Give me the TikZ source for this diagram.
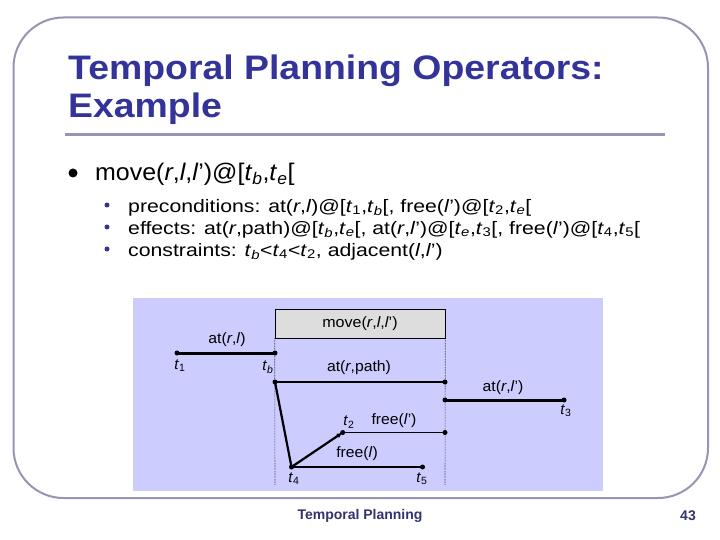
\documentclass[tikz,border=0pt]{standalone}
\usepackage{fontspec}
\setmainfont{Liberation Sans}
\usetikzlibrary{arrows.meta}
\definecolor{frame}{RGB}{150,150,180}
\definecolor{titleblue}{RGB}{51,51,153}
\definecolor{footblue}{RGB}{51,51,110}
\definecolor{panel}{RGB}{204,204,255}
\definecolor{boxgray}{RGB}{221,221,221}
\newcommand\ti[1]{\textit{#1}}
\newcommand\ts[2]{\textit{#1}\textsubscript{\textit{#2}}}
\newcommand\tn[2]{\textit{#1}\textsubscript{#2}}
\tikzset{
  titletext/.style={anchor=base west,inner sep=0pt,text=titleblue,font=\fontsize{34}{38}\selectfont\bfseries},
  maintext/.style={anchor=base west,inner sep=0pt,font=\fontsize{24}{26}\selectfont},
  subtext/.style={anchor=base west,inner sep=0pt,font=\fontsize{18}{20}\selectfont},
  lab/.style={inner sep=0pt,font=\fontsize{15}{17}\selectfont},
  pt/.style={circle,fill=black,inner sep=0pt,minimum size=5pt},
  thickln/.style={line width=3pt},
  midln/.style={line width=2.2pt},
  thinln/.style={line width=1.8pt},
  guide/.style={densely dotted,line width=0.6pt},
  footer/.style={text=footblue,inner sep=0pt,font=\fontsize{14}{16}\selectfont\bfseries}
}
\begin{document}
\begin{tikzpicture}[x=1pt,y=-1pt]
\useasboundingbox (0,0) rectangle (720,540);
\fill[white] (0,0) rectangle (720,540);
% frame
\draw[frame,line width=2pt,rounded corners=50pt] (13.5,17.5) rectangle (708,498);
% title
\node[titletext] (t1line) at (68,80) {\scalebox{1.1}[1]{Temporal Planning Operators:}};
\node[titletext] (t2line) at (68,118) {\scalebox{1.1}[1]{Example}};
\draw[frame,line width=3pt] (65,135) -- (665,135);
% bullets
\node[circle,fill=black,inner sep=0pt,minimum size=9pt] (b0) at (73,173) {};
\node[maintext] (m0) at (95,181) {\scalebox{1.04}[1]{move(\ti{r},\ti{l},\ti{l}’)@[\ts{t}{b},\ts{t}{e}[}};
\foreach \yy/\nm in {205/b1,227/b2,249/b3}
  \node[circle,fill=titleblue,inner sep=0pt,minimum size=5pt] (\nm) at (107,\yy) {};
\node[subtext] (m1) at (128,212) {\scalebox{1.18}[1]{preconditions: at(\ti{r},\ti{l})@[\tn{t}{1},\ts{t}{b}[, free(\ti{l}’)@[\tn{t}{2},\ts{t}{e}[}};
\node[subtext] (m2) at (128,234) {\scalebox{1.18}[1]{effects: at(\ti{r},path)@[\ts{t}{b},\ts{t}{e}[, at(\ti{r},\ti{l}’)@[\ts{t}{e},\tn{t}{3}[, free(\ti{l}’)@[\tn{t}{4},\tn{t}{5}[}};
\node[subtext] (m3) at (128,256) {\scalebox{1.18}[1]{constraints: \ts{t}{b}<\tn{t}{4}<\tn{t}{2}, adjacent(\ti{l},\ti{l}’)}};
% panel
\fill[panel] (133,298) rectangle (603,491);
\node[draw=black,line width=0.6pt,fill=boxgray,minimum width=170pt,minimum height=29pt,inner sep=0pt,font=\fontsize{15}{17}\selectfont] (mv) at (360,323.5) {\scalebox{1.07}[1]{move(\ti{r},\ti{l},\ti{l}’)}};
\coordinate (gA) at (275,485);
\coordinate (gB) at (445,485);
\draw[guide] (mv.south west) -- (gA);
\draw[guide] (mv.south east) -- (gB);
% time points
\node[pt] (p1) at (177,353) {};
\node[pt] (pb) at (275,353) {};
\node[pt] (pb2) at (275,382) {};
\node[pt] (pe) at (445,382) {};
\node[pt] (pe2) at (445,400) {};
\node[pt] (p3) at (564,400) {};
\node[pt] (p2) at (342.7,432.5) {};
\node[pt] (pe3) at (445,432.5) {};
\node[pt] (p4) at (291.5,467) {};
\node[pt] (p5) at (422.5,467) {};
% lines
\draw[thickln] (p1.center) -- (pb.center);
\draw[midln] (pb2.center) -- (pe.center);
\draw[thickln] (pe2.center) -- (p3.center);
\draw[thinln] (p2.center) -- (pe3.center);
\draw[thinln] (p4.center) -- (p5.center);
\draw[midln] (pb2.center) -- (p4.center);
\draw[midln,-{Latex[length=6pt,width=5pt]}] (p4.center) -- (p2.center);
% labels
\node[lab] (l1) at (227,340) {\scalebox{1.05}[1]{at(\ti{r},\ti{l})}};
\node[lab] (l2) at (359,368) {\scalebox{1.05}[1]{at(\ti{r},path)}};
\node[lab] (l3) at (503,388) {\scalebox{1.05}[1]{at(\ti{r},\ti{l}’)}};
\node[lab] (l4) at (394,421) {\scalebox{1.05}[1]{free(\ti{l}’)}};
\node[lab] (l5) at (357,454) {\scalebox{1.05}[1]{free(\ti{l})}};
\node[lab] (n1) at (180,366) {\tn{t}{1}};
\node[lab] (nb) at (268,367) {\ts{t}{b}};
\node[lab] (n3) at (566,411) {\tn{t}{3}};
\node[lab] (n2) at (349,422) {\tn{t}{2}};
\node[lab] (n4) at (294,479) {\tn{t}{4}};
\node[lab] (n5) at (422,479) {\tn{t}{5}};
% footer
\node[footer] (f1) at (360,516) {Temporal Planning};
\node[footer] (f2) at (688,516) {43};
\end{tikzpicture}
\end{document}
